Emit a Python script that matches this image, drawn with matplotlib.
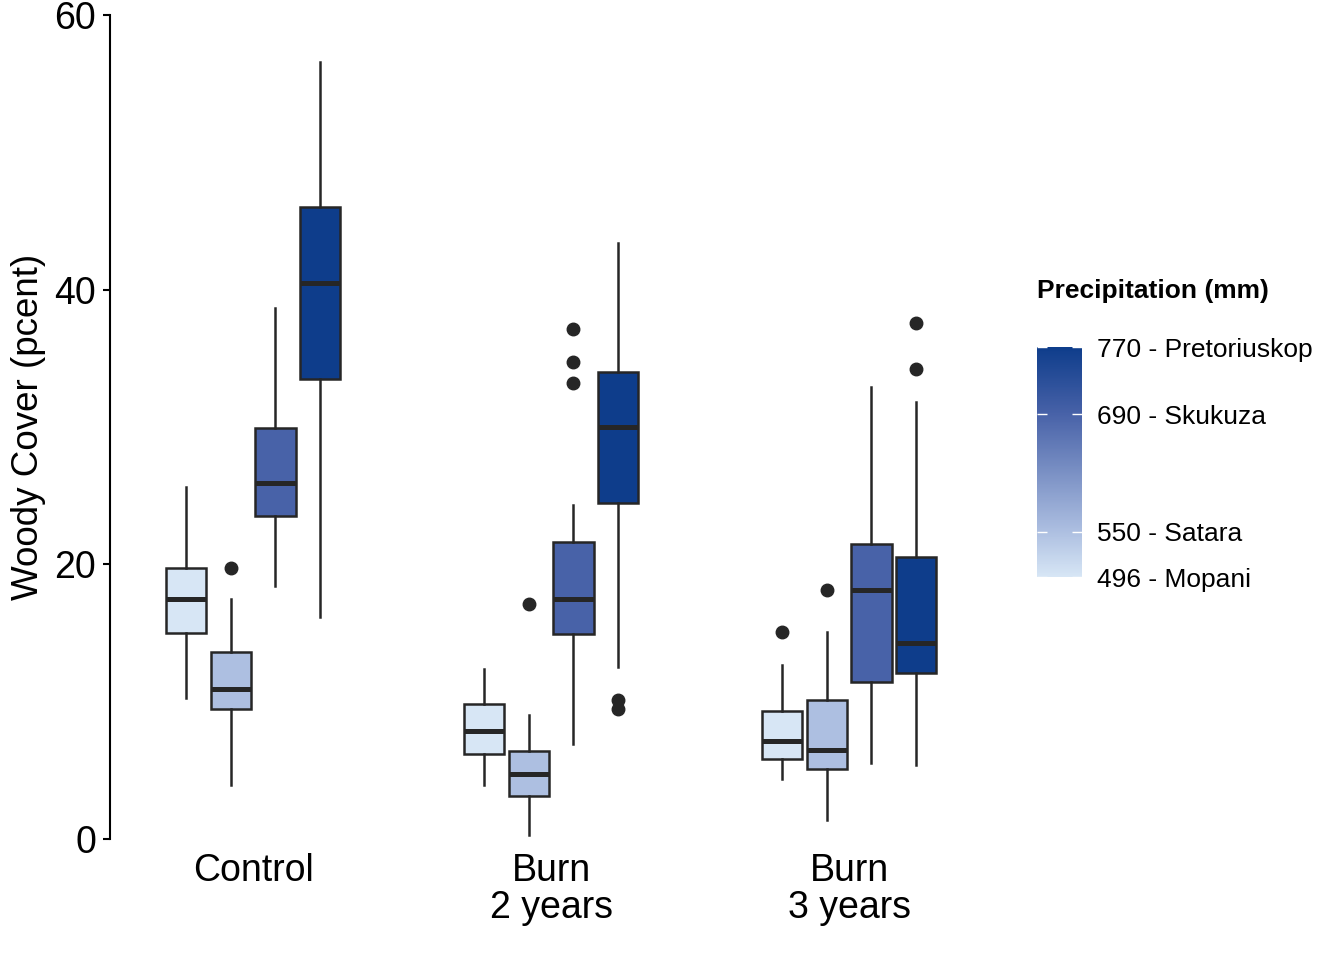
import matplotlib
matplotlib.use("Agg")
import matplotlib.pyplot as plt
import numpy as np
from matplotlib.colors import LinearSegmentedColormap, Normalize
from matplotlib.cm import ScalarMappable

plt.rcParams['font.family'] = ['Liberation Sans', 'DejaVu Sans']

# ---- data ----
treatments = ["Control", "Burn\n2 years", "Burn\n3 years"]
sites = ["Mopani", "Satara", "Skukuza", "Pretoriuskop"]
precip = [496, 550, 690, 770]
site_colors = ["#d7e6f5", "#adbfe1", "#4862a8", "#0e3d8b"]

# per site: values for [Control, Burn 2 years, Burn 3 years]
whislo = {
    "Mopani":       [10.3, 3.9, 4.4],
    "Satara":       [3.9, 0.3, 1.4],
    "Skukuza":      [18.4, 6.9, 5.5],
    "Pretoriuskop": [16.2, 12.5, 5.4],
}
q1 = {
    "Mopani":       [15.0, 6.2, 5.8],
    "Satara":       [9.5, 3.1, 5.1],
    "Skukuza":      [23.5, 14.9, 11.4],
    "Pretoriuskop": [33.5, 24.5, 12.1],
}
med = {
    "Mopani":       [17.5, 7.9, 7.1],
    "Satara":       [10.9, 4.7, 6.5],
    "Skukuza":      [25.9, 17.5, 18.1],
    "Pretoriuskop": [40.5, 30.0, 14.3],
}
q3 = {
    "Mopani":       [19.7, 9.8, 9.3],
    "Satara":       [13.6, 6.4, 10.1],
    "Skukuza":      [29.9, 21.6, 21.5],
    "Pretoriuskop": [46.0, 34.0, 20.5],
}
whishi = {
    "Mopani":       [25.6, 12.4, 12.7],
    "Satara":       [17.5, 9.0, 15.1],
    "Skukuza":      [38.7, 24.3, 32.9],
    "Pretoriuskop": [56.6, 43.4, 31.8],
}
fliers = {
    "Mopani":       [[], [], [15.1]],
    "Satara":       [[19.7], [17.1], [18.1]],
    "Skukuza":      [[], [33.2, 34.7, 37.1], []],
    "Pretoriuskop": [[], [10.1, 9.5], [34.2, 37.6]],
}

yticks = [0, 20, 40, 60]

# ---- figure ----
fig = plt.figure(figsize=(13.44, 9.6), dpi=100)
ax = fig.add_axes([110/1344, 121/960, 900/1344, 824/960])

offsets = [-0.225, -0.075, 0.075, 0.225]
edge = "#262626"
cmap = LinearSegmentedColormap.from_list(
    "prec", [((p - precip[0]) / (precip[-1] - precip[0]), c) for p, c in zip(precip, site_colors)])
norm = Normalize(precip[0], precip[-1])

for si, s in enumerate(sites):
    stats = []
    for ti in range(len(treatments)):
        stats.append(dict(med=med[s][ti], q1=q1[s][ti], q3=q3[s][ti],
                          whislo=whislo[s][ti], whishi=whishi[s][ti],
                          fliers=fliers[s][ti]))
    pos = [ti + 1 + offsets[si] for ti in range(len(treatments))]
    ax.bxp(stats, positions=pos, widths=0.135, showcaps=False, patch_artist=True,
           boxprops=dict(facecolor=cmap(norm(precip[si])), edgecolor=edge, linewidth=1.8),
           medianprops=dict(color=edge, linewidth=3.6, solid_capstyle='butt'),
           whiskerprops=dict(color=edge, linewidth=1.8),
           flierprops=dict(marker='o', markerfacecolor=edge, markeredgecolor=edge,
                           markersize=9, linestyle='none'),
           manage_ticks=False)

ax.set_xlim(0.52, 3.54)
ax.set_ylim(0, 60)
ax.set_xticks([1, 2, 3])
ax.set_xticklabels(treatments, fontsize=27, linespacing=1.05)
ax.set_yticks(yticks)
ax.set_yticklabels([str(v) for v in yticks], fontsize=27)
ax.tick_params(axis='x', length=0, pad=10, colors='black')
ax.tick_params(axis='y', length=5, width=1.5, pad=5, colors='black')
for sp in ['top', 'right', 'bottom']:
    ax.spines[sp].set_visible(False)
ax.spines['left'].set_linewidth(1.5)
ax.set_ylabel("Woody Cover (pcent)", fontsize=26.5, labelpad=6)

# ---- colourbar legend ----
cax = fig.add_axes([1037/1344, (960-577)/960, 45/1344, 230/960])
cb = fig.colorbar(ScalarMappable(norm=norm, cmap=cmap), cax=cax)
cb.outline.set_visible(False)
cb.set_ticks(precip)
cb.set_ticklabels([f"{p} - {s}" for p, s in zip(precip, sites)])
cax.tick_params(direction='in', color='white', length=7, width=1, left=True, right=True,
                labelsize=19, pad=11)
fig.text(1037/1344, (960-291)/960, "Precipitation (mm)", fontsize=19, fontweight='bold',
         ha='left', va='center')

fig.savefig("out.png", dpi=100)
